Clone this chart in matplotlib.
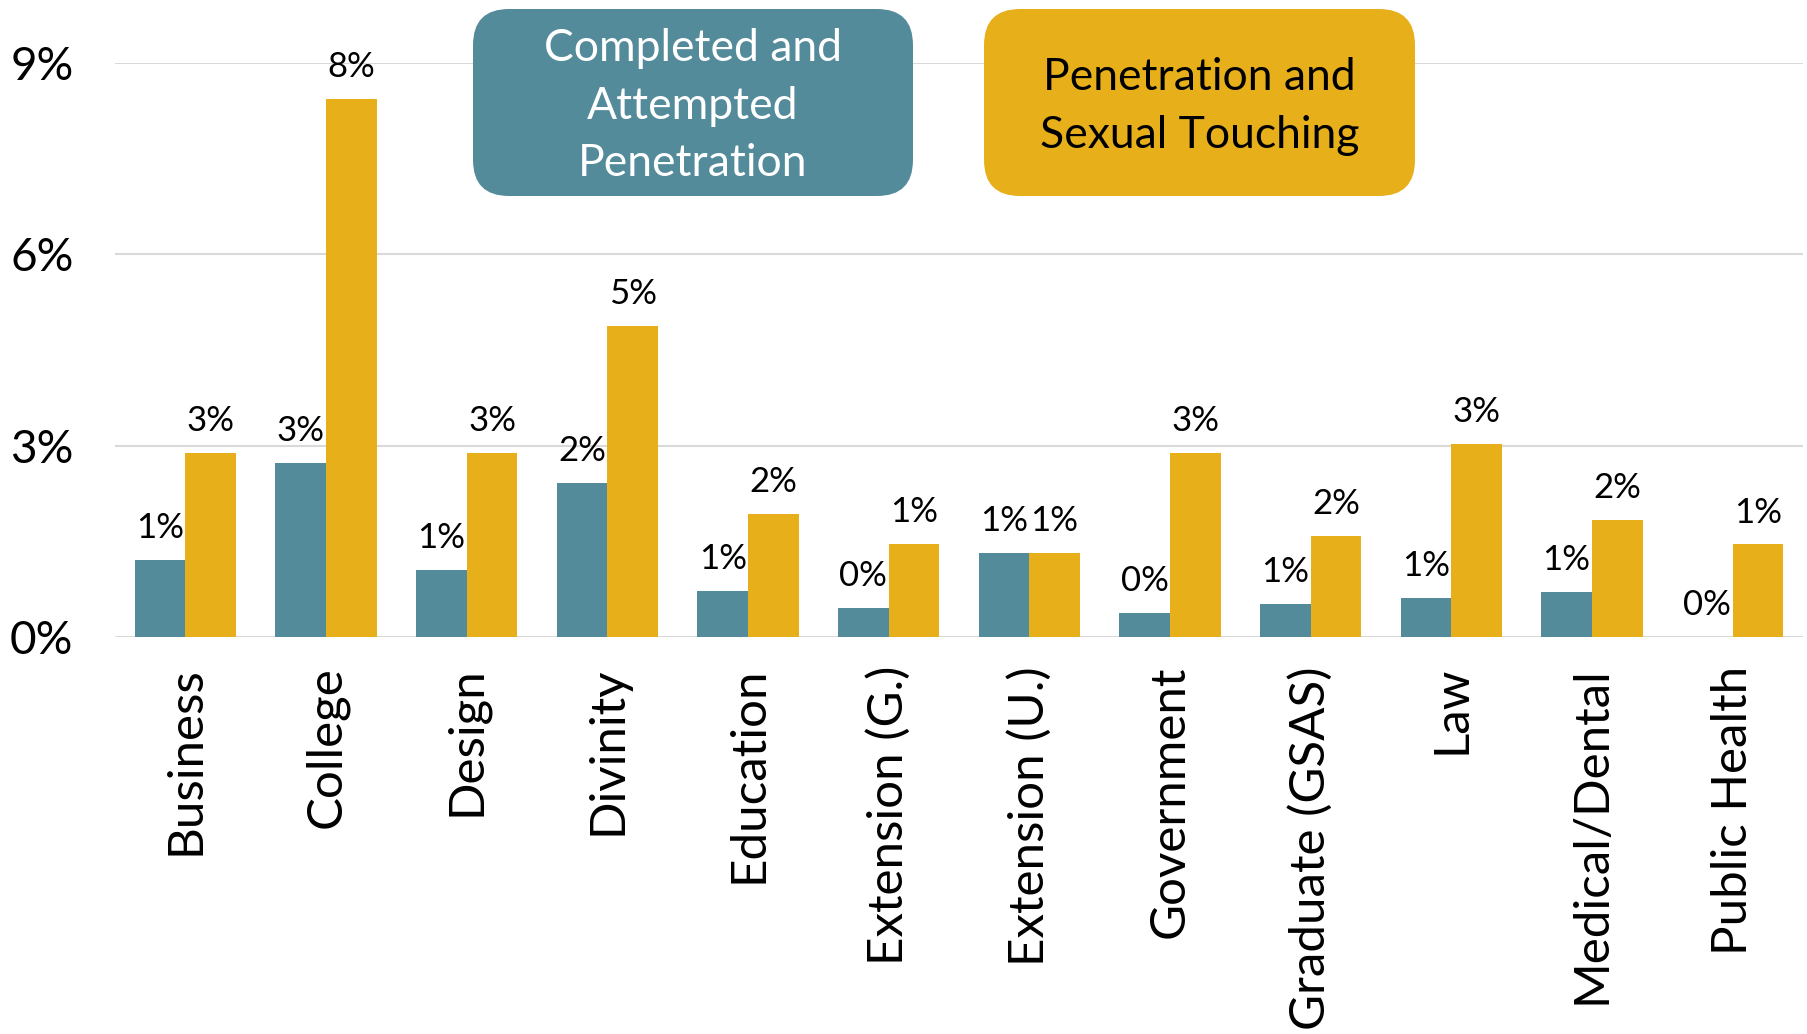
import matplotlib.pyplot as plt
from matplotlib.patches import FancyBboxPatch
import numpy as np

# Data (fractions)
schools = ['Business', 'College', 'Design', 'Divinity', 'Education',
           'Extension (G.)', 'Extension (U.)', 'Government', 'Graduate (GSAS)',
           'Law', 'Medical/Dental', 'Public Health']
penetration = [0.0121, 0.0273, 0.0105, 0.0241, 0.0072, 0.0045,
               0.0132, 0.0038, 0.0051, 0.0061, 0.0070, 0.0]
pen_touching = [0.0288, 0.0843, 0.0289, 0.0488, 0.0193, 0.0146,
                0.0132, 0.0289, 0.0159, 0.0302, 0.0183, 0.0145]
yticks = [0, 0.03, 0.06, 0.09]
series_names = ['Completed and\nAttempted\nPenetration', 'Penetration and\nSexual Touching']

teal = '#538b9b'
gold = '#e7b01a'

plt.rcParams['font.family'] = ['Lato', 'DejaVu Sans']

fig = plt.figure(figsize=(18.07, 10.34), dpi=100)
ax = fig.add_axes([0.0637, 0.384, 0.934, 0.555])

x = np.arange(len(schools))
w = 0.36
b1 = ax.bar(x - w / 2, penetration, w, color=teal)
b2 = ax.bar(x + w / 2, pen_touching, w, color=gold)

# value labels
for bars, vals in ((b1, penetration), (b2, pen_touching)):
    for r, v in zip(bars, vals):
        ax.annotate('%d%%' % int(v * 100 + 0.5),
                    (r.get_x() + r.get_width() / 2, v),
                    xytext=(0, 11.5), textcoords='offset points',
                    ha='center', va='bottom', fontsize=25)

ax.set_xlim(-0.5, len(schools) - 0.5)
ax.set_ylim(0, 0.09)
ax.set_yticks(yticks)
ax.set_yticklabels(['%d%%' % round(t * 100) for t in yticks], fontsize=33)
ax.set_xticks(x)
ax.set_xticklabels(schools, rotation=90, fontsize=35.5)
ax.tick_params(axis='y', length=0, pad=30)
ax.tick_params(axis='x', length=0, pad=21)
ax.yaxis.grid(True, color='#d9d9d9', linewidth=1.5)
ax.set_axisbelow(True)
for s in ax.spines.values():
    s.set_visible(False)

# legend boxes at the top
boxes = [(4.73, 8.38, 4.40, 1.87, teal, 'white'),
         (9.84, 8.38, 4.31, 1.87, gold, 'black')]
for (bx, by, bw, bh, fc, tc), name in zip(boxes, series_names):
    p = FancyBboxPatch((bx, by), bw, bh,
                       boxstyle='round,pad=0,rounding_size=0.36',
                       transform=fig.dpi_scale_trans, facecolor=fc,
                       edgecolor='none')
    fig.add_artist(p)
    fig.text(bx + bw / 2, by + bh / 2 - 0.04, name, transform=fig.dpi_scale_trans,
             ha='center', va='center', color=tc, fontsize=32,
             linespacing=1.5)

fig.savefig('out.png', dpi=100)
